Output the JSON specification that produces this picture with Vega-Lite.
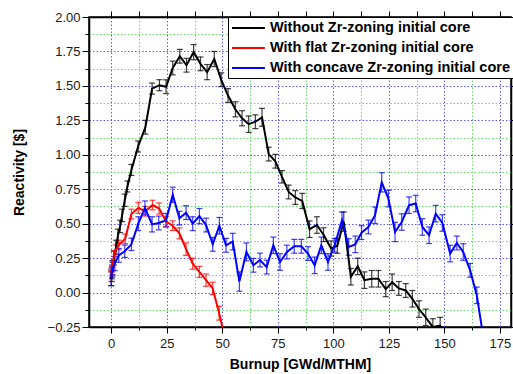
{
  "$schema": "https://vega.github.io/schema/vega-lite/v6.json",
  "width": 422,
  "height": 310,
  "autosize": {"type": "none"},
  "padding": {"left": 89, "top": 17, "right": 2, "bottom": 47},
  "background": "white",
  "config": {
    "view": {"stroke": "black", "strokeWidth": 1.5},
    "axis": {
      "labelFont": "Liberation Sans", "labelFontSize": 13, "labelColor": "#1a1a1a",
      "titleFont": "Liberation Sans", "titleFontSize": 14, "titleFontWeight": "bold", "titleColor": "black",
      "domainColor": "black", "domainWidth": 1.5, "tickColor": "black", "tickWidth": 1
    }
  },
  "datasets": {
    "pts": [
      {"s": "Without Zr-zoning initial core", "x": 0, "y": 0.10, "e": 0.05},
      {"s": "Without Zr-zoning initial core", "x": 0.3, "y": 0.13, "e": 0.05},
      {"s": "Without Zr-zoning initial core", "x": 0.6, "y": 0.17, "e": 0.05},
      {"s": "Without Zr-zoning initial core", "x": 1.2, "y": 0.25, "e": 0.05},
      {"s": "Without Zr-zoning initial core", "x": 2.2, "y": 0.33, "e": 0.05},
      {"s": "Without Zr-zoning initial core", "x": 3.0, "y": 0.41, "e": 0.05},
      {"s": "Without Zr-zoning initial core", "x": 4.0, "y": 0.48, "e": 0.045},
      {"s": "Without Zr-zoning initial core", "x": 4.9, "y": 0.56, "e": 0.045},
      {"s": "Without Zr-zoning initial core", "x": 6.1, "y": 0.67, "e": 0.045},
      {"s": "Without Zr-zoning initial core", "x": 7.3, "y": 0.77, "e": 0.04},
      {"s": "Without Zr-zoning initial core", "x": 9.1, "y": 0.89, "e": 0.04},
      {"s": "Without Zr-zoning initial core", "x": 12.1, "y": 1.06, "e": 0.04},
      {"s": "Without Zr-zoning initial core", "x": 15.4, "y": 1.20, "e": 0.05},
      {"s": "Without Zr-zoning initial core", "x": 18.4, "y": 1.48, "e": 0.04},
      {"s": "Without Zr-zoning initial core", "x": 21.7, "y": 1.505, "e": 0.04},
      {"s": "Without Zr-zoning initial core", "x": 24.7, "y": 1.494, "e": 0.05},
      {"s": "Without Zr-zoning initial core", "x": 27.7, "y": 1.63, "e": 0.05},
      {"s": "Without Zr-zoning initial core", "x": 30.9, "y": 1.715, "e": 0.05},
      {"s": "Without Zr-zoning initial core", "x": 33.9, "y": 1.65, "e": 0.05},
      {"s": "Without Zr-zoning initial core", "x": 37.1, "y": 1.745, "e": 0.055},
      {"s": "Without Zr-zoning initial core", "x": 40.2, "y": 1.66, "e": 0.05},
      {"s": "Without Zr-zoning initial core", "x": 43.2, "y": 1.60, "e": 0.055},
      {"s": "Without Zr-zoning initial core", "x": 46.4, "y": 1.695, "e": 0.055},
      {"s": "Without Zr-zoning initial core", "x": 49.5, "y": 1.545, "e": 0.05},
      {"s": "Without Zr-zoning initial core", "x": 52.6, "y": 1.43, "e": 0.05},
      {"s": "Without Zr-zoning initial core", "x": 55.9, "y": 1.33, "e": 0.055},
      {"s": "Without Zr-zoning initial core", "x": 58.9, "y": 1.265, "e": 0.055},
      {"s": "Without Zr-zoning initial core", "x": 61.9, "y": 1.222, "e": 0.06},
      {"s": "Without Zr-zoning initial core", "x": 64.9, "y": 1.24, "e": 0.05},
      {"s": "Without Zr-zoning initial core", "x": 67.9, "y": 1.272, "e": 0.065},
      {"s": "Without Zr-zoning initial core", "x": 70.9, "y": 1.005, "e": 0.05},
      {"s": "Without Zr-zoning initial core", "x": 73.9, "y": 0.953, "e": 0.05},
      {"s": "Without Zr-zoning initial core", "x": 76.9, "y": 0.84, "e": 0.045},
      {"s": "Without Zr-zoning initial core", "x": 79.9, "y": 0.73, "e": 0.05},
      {"s": "Without Zr-zoning initial core", "x": 82.9, "y": 0.69, "e": 0.05},
      {"s": "Without Zr-zoning initial core", "x": 86.0, "y": 0.665, "e": 0.055},
      {"s": "Without Zr-zoning initial core", "x": 89.3, "y": 0.46, "e": 0.06},
      {"s": "Without Zr-zoning initial core", "x": 92.6, "y": 0.49, "e": 0.06},
      {"s": "Without Zr-zoning initial core", "x": 95.6, "y": 0.42, "e": 0.05},
      {"s": "Without Zr-zoning initial core", "x": 99.0, "y": 0.32, "e": 0.055},
      {"s": "Without Zr-zoning initial core", "x": 101.8, "y": 0.34, "e": 0.055},
      {"s": "Without Zr-zoning initial core", "x": 104.7, "y": 0.515, "e": 0.07},
      {"s": "Without Zr-zoning initial core", "x": 107.9, "y": 0.115, "e": 0.06},
      {"s": "Without Zr-zoning initial core", "x": 111.0, "y": 0.19, "e": 0.06},
      {"s": "Without Zr-zoning initial core", "x": 114.0, "y": 0.09, "e": 0.06},
      {"s": "Without Zr-zoning initial core", "x": 117.3, "y": 0.10, "e": 0.06},
      {"s": "Without Zr-zoning initial core", "x": 120.3, "y": 0.10, "e": 0.06},
      {"s": "Without Zr-zoning initial core", "x": 123.6, "y": 0.025, "e": 0.055},
      {"s": "Without Zr-zoning initial core", "x": 126.5, "y": 0.075, "e": 0.06},
      {"s": "Without Zr-zoning initial core", "x": 129.5, "y": 0.03, "e": 0.05},
      {"s": "Without Zr-zoning initial core", "x": 132.6, "y": 0.015, "e": 0.05},
      {"s": "Without Zr-zoning initial core", "x": 135.6, "y": -0.045, "e": 0.06},
      {"s": "Without Zr-zoning initial core", "x": 138.6, "y": -0.12, "e": 0.06},
      {"s": "Without Zr-zoning initial core", "x": 141.6, "y": -0.18, "e": 0.06},
      {"s": "Without Zr-zoning initial core", "x": 144.8, "y": -0.25, "e": 0.06},
      {"s": "Without Zr-zoning initial core", "x": 148.1, "y": -0.24, "e": 0.06},
      {"s": "Without Zr-zoning initial core", "x": 151.2, "y": -0.34, "e": 0.06},
      {"s": "With flat Zr-zoning initial core", "x": 0, "y": 0.12, "e": 0.04},
      {"s": "With flat Zr-zoning initial core", "x": 0.3, "y": 0.15, "e": 0.04},
      {"s": "With flat Zr-zoning initial core", "x": 0.6, "y": 0.19, "e": 0.04},
      {"s": "With flat Zr-zoning initial core", "x": 1.2, "y": 0.27, "e": 0.035},
      {"s": "With flat Zr-zoning initial core", "x": 2.0, "y": 0.31, "e": 0.035},
      {"s": "With flat Zr-zoning initial core", "x": 3.4, "y": 0.345, "e": 0.035},
      {"s": "With flat Zr-zoning initial core", "x": 6.3, "y": 0.39, "e": 0.035},
      {"s": "With flat Zr-zoning initial core", "x": 9.1, "y": 0.57, "e": 0.035},
      {"s": "With flat Zr-zoning initial core", "x": 12.2, "y": 0.615, "e": 0.04},
      {"s": "With flat Zr-zoning initial core", "x": 15.4, "y": 0.59, "e": 0.035},
      {"s": "With flat Zr-zoning initial core", "x": 18.6, "y": 0.635, "e": 0.035},
      {"s": "With flat Zr-zoning initial core", "x": 21.6, "y": 0.61, "e": 0.04},
      {"s": "With flat Zr-zoning initial core", "x": 24.7, "y": 0.515, "e": 0.035},
      {"s": "With flat Zr-zoning initial core", "x": 27.7, "y": 0.485, "e": 0.035},
      {"s": "With flat Zr-zoning initial core", "x": 30.7, "y": 0.43, "e": 0.04},
      {"s": "With flat Zr-zoning initial core", "x": 33.7, "y": 0.315, "e": 0.045},
      {"s": "With flat Zr-zoning initial core", "x": 36.7, "y": 0.21, "e": 0.04},
      {"s": "With flat Zr-zoning initial core", "x": 39.7, "y": 0.15, "e": 0.04},
      {"s": "With flat Zr-zoning initial core", "x": 42.7, "y": 0.09, "e": 0.045},
      {"s": "With flat Zr-zoning initial core", "x": 45.7, "y": 0.03, "e": 0.045},
      {"s": "With flat Zr-zoning initial core", "x": 48.6, "y": -0.15, "e": 0.05},
      {"s": "With flat Zr-zoning initial core", "x": 51.5, "y": -0.35, "e": 0.05},
      {"s": "With concave Zr-zoning initial core", "x": 0, "y": 0.11, "e": 0.06},
      {"s": "With concave Zr-zoning initial core", "x": 0.3, "y": 0.15, "e": 0.05},
      {"s": "With concave Zr-zoning initial core", "x": 0.6, "y": 0.18, "e": 0.05},
      {"s": "With concave Zr-zoning initial core", "x": 1.6, "y": 0.21, "e": 0.05},
      {"s": "With concave Zr-zoning initial core", "x": 3.4, "y": 0.27, "e": 0.05},
      {"s": "With concave Zr-zoning initial core", "x": 6.1, "y": 0.30, "e": 0.045},
      {"s": "With concave Zr-zoning initial core", "x": 9.1, "y": 0.35, "e": 0.045},
      {"s": "With concave Zr-zoning initial core", "x": 12.2, "y": 0.50, "e": 0.05},
      {"s": "With concave Zr-zoning initial core", "x": 15.2, "y": 0.615, "e": 0.05},
      {"s": "With concave Zr-zoning initial core", "x": 18.4, "y": 0.495, "e": 0.055},
      {"s": "With concave Zr-zoning initial core", "x": 21.4, "y": 0.505, "e": 0.05},
      {"s": "With concave Zr-zoning initial core", "x": 24.7, "y": 0.525, "e": 0.05},
      {"s": "With concave Zr-zoning initial core", "x": 27.7, "y": 0.71, "e": 0.055},
      {"s": "With concave Zr-zoning initial core", "x": 30.7, "y": 0.54, "e": 0.05},
      {"s": "With concave Zr-zoning initial core", "x": 33.7, "y": 0.58, "e": 0.05},
      {"s": "With concave Zr-zoning initial core", "x": 36.7, "y": 0.50, "e": 0.05},
      {"s": "With concave Zr-zoning initial core", "x": 39.7, "y": 0.555, "e": 0.055},
      {"s": "With concave Zr-zoning initial core", "x": 42.7, "y": 0.49, "e": 0.05},
      {"s": "With concave Zr-zoning initial core", "x": 45.7, "y": 0.35, "e": 0.05},
      {"s": "With concave Zr-zoning initial core", "x": 48.7, "y": 0.485, "e": 0.06},
      {"s": "With concave Zr-zoning initial core", "x": 51.7, "y": 0.343, "e": 0.05},
      {"s": "With concave Zr-zoning initial core", "x": 54.7, "y": 0.37, "e": 0.06},
      {"s": "With concave Zr-zoning initial core", "x": 57.7, "y": 0.08, "e": 0.07},
      {"s": "With concave Zr-zoning initial core", "x": 60.9, "y": 0.295, "e": 0.065},
      {"s": "With concave Zr-zoning initial core", "x": 64.0, "y": 0.198, "e": 0.05},
      {"s": "With concave Zr-zoning initial core", "x": 67.0, "y": 0.236, "e": 0.05},
      {"s": "With concave Zr-zoning initial core", "x": 70.0, "y": 0.185, "e": 0.05},
      {"s": "With concave Zr-zoning initial core", "x": 73.0, "y": 0.343, "e": 0.06},
      {"s": "With concave Zr-zoning initial core", "x": 76.0, "y": 0.222, "e": 0.06},
      {"s": "With concave Zr-zoning initial core", "x": 79.1, "y": 0.294, "e": 0.05},
      {"s": "With concave Zr-zoning initial core", "x": 82.4, "y": 0.336, "e": 0.05},
      {"s": "With concave Zr-zoning initial core", "x": 85.6, "y": 0.336, "e": 0.05},
      {"s": "With concave Zr-zoning initial core", "x": 88.6, "y": 0.283, "e": 0.05},
      {"s": "With concave Zr-zoning initial core", "x": 91.6, "y": 0.198, "e": 0.06},
      {"s": "With concave Zr-zoning initial core", "x": 94.6, "y": 0.343, "e": 0.06},
      {"s": "With concave Zr-zoning initial core", "x": 97.6, "y": 0.222, "e": 0.06},
      {"s": "With concave Zr-zoning initial core", "x": 100.6, "y": 0.343, "e": 0.05},
      {"s": "With concave Zr-zoning initial core", "x": 103.9, "y": 0.525, "e": 0.06},
      {"s": "With concave Zr-zoning initial core", "x": 106.9, "y": 0.331, "e": 0.06},
      {"s": "With concave Zr-zoning initial core", "x": 109.9, "y": 0.35, "e": 0.06},
      {"s": "With concave Zr-zoning initial core", "x": 112.7, "y": 0.435, "e": 0.05},
      {"s": "With concave Zr-zoning initial core", "x": 115.8, "y": 0.476, "e": 0.05},
      {"s": "With concave Zr-zoning initial core", "x": 118.8, "y": 0.561, "e": 0.06},
      {"s": "With concave Zr-zoning initial core", "x": 121.8, "y": 0.80, "e": 0.07},
      {"s": "With concave Zr-zoning initial core", "x": 124.8, "y": 0.682, "e": 0.06},
      {"s": "With concave Zr-zoning initial core", "x": 127.8, "y": 0.44, "e": 0.07},
      {"s": "With concave Zr-zoning initial core", "x": 130.8, "y": 0.512, "e": 0.06},
      {"s": "With concave Zr-zoning initial core", "x": 134.1, "y": 0.634, "e": 0.06},
      {"s": "With concave Zr-zoning initial core", "x": 137.1, "y": 0.646, "e": 0.06},
      {"s": "With concave Zr-zoning initial core", "x": 140.1, "y": 0.476, "e": 0.06},
      {"s": "With concave Zr-zoning initial core", "x": 143.1, "y": 0.416, "e": 0.06},
      {"s": "With concave Zr-zoning initial core", "x": 146.1, "y": 0.573, "e": 0.06},
      {"s": "With concave Zr-zoning initial core", "x": 149.1, "y": 0.505, "e": 0.06},
      {"s": "With concave Zr-zoning initial core", "x": 152.6, "y": 0.283, "e": 0.06},
      {"s": "With concave Zr-zoning initial core", "x": 155.6, "y": 0.36, "e": 0.05},
      {"s": "With concave Zr-zoning initial core", "x": 158.5, "y": 0.294, "e": 0.06},
      {"s": "With concave Zr-zoning initial core", "x": 161.6, "y": 0.161, "e": 0.05},
      {"s": "With concave Zr-zoning initial core", "x": 164.6, "y": -0.02, "e": 0.06},
      {"s": "With concave Zr-zoning initial core", "x": 167.6, "y": -0.33, "e": 0.06}
    ]
  },
  "data": {"name": "pts"},
  "layer": [
    {
      "mark": {"type": "errorbar", "ticks": {"size": 6}, "thickness": 1.2, "opacity": 0.75, "clip": true},
      "encoding": {
        "x": {"field": "x", "type": "quantitative",
          "scale": {"domain": [-10, 180], "nice": false, "zero": false},
          "axis": {"orient": "bottom", "values": [0, 25, 50, 75, 100, 125, 150, 175], "format": "d",
            "title": "Burnup [GWd/MTHM]", "tickSize": 6, "labelPadding": 4, "titlePadding": 7,
            "labelFlush": false, "labelOverlap": false,
            "grid": true, "gridColor": "#5a5aff", "gridDash": [1.5, 2], "gridWidth": 1}},
        "y": {"field": "y", "type": "quantitative",
          "scale": {"domain": [-0.25, 2], "nice": false, "zero": false},
          "axis": {"orient": "left", "values": [-0.25, 0, 0.25, 0.5, 0.75, 1, 1.25, 1.5, 1.75, 2], "format": ".2f",
            "title": "Reactivity [$]", "tickSize": 7, "labelPadding": 2, "titlePadding": 21,
            "labelFlush": false, "labelOverlap": false,
            "grid": true, "gridColor": "#5a5aff", "gridDash": [1.5, 2], "gridWidth": 1}},
        "yError": {"field": "e"},
        "color": {"field": "s", "type": "nominal",
          "scale": {"domain": ["Without Zr-zoning initial core", "With flat Zr-zoning initial core", "With concave Zr-zoning initial core"], "range": ["black", "red", "blue"]},
          "legend": {"orient": "none", "legendX": 139, "legendY": 0, "title": null, "symbolType": "M-1,0H3.7", "symbolSize": 196, "symbolStrokeWidth": 2, "symbolOpacity": 1, "labelFont": "Liberation Sans", "labelFontSize": 14.5, "labelFontWeight": "bold", "labelColor": "black", "labelOffset": 23, "labelLimit": 400, "rowPadding": 5, "padding": 3, "fillColor": "white", "strokeColor": "black"}}
      }
    },
    {
      "mark": {"type": "line", "strokeWidth": 2, "clip": true},
      "encoding": {
        "x": {"field": "x", "type": "quantitative",
          "axis": {"orient": "bottom", "values": [12.5, 37.5, 62.5, 87.5, 112.5, 137.5, 162.5], "labels": false, "title": null, "domain": false,
            "tickSize": 3, "grid": true, "gridColor": "#66dd66", "gridDash": [1.5, 2], "gridWidth": 1}},
        "y": {"field": "y", "type": "quantitative",
          "axis": {"orient": "left", "values": [-0.125, 0.125, 0.375, 0.625, 0.875, 1.125, 1.375, 1.625, 1.875], "labels": false, "title": null, "domain": false,
            "tickSize": 4, "grid": true, "gridColor": "#66dd66", "gridDash": [1.5, 2], "gridWidth": 1}},
        "color": {"field": "s", "type": "nominal",
          "legend": {"orient": "none", "legendX": 139, "legendY": 0, "title": null, "symbolType": "M-1,0H3.7", "symbolSize": 196, "symbolStrokeWidth": 2, "symbolOpacity": 1, "labelFont": "Liberation Sans", "labelFontSize": 14.5, "labelFontWeight": "bold", "labelColor": "black", "labelOffset": 23, "labelLimit": 400, "rowPadding": 5, "padding": 3, "fillColor": "white", "strokeColor": "black"}}
      }
    },
    {
      "mark": {"type": "point", "opacity": 0},
      "encoding": {
        "x": {"field": "x", "type": "quantitative",
          "axis": {"orient": "top", "values": [0, 12.5, 25, 37.5, 50, 62.5, 75, 87.5, 100, 112.5, 125, 137.5, 150, 162.5, 175], "labels": false, "title": null, "tickSize": 6, "grid": false}},
        "y": {"field": "y", "type": "quantitative",
          "axis": {"orient": "right", "values": [-0.25, 0, 0.25, 0.5, 0.75, 1, 1.25, 1.5, 1.75, 2], "labels": false, "title": null, "tickSize": 6, "grid": false}}
      }
    }
  ],
  "resolve": {"axis": {"x": "independent", "y": "independent"}}
}
